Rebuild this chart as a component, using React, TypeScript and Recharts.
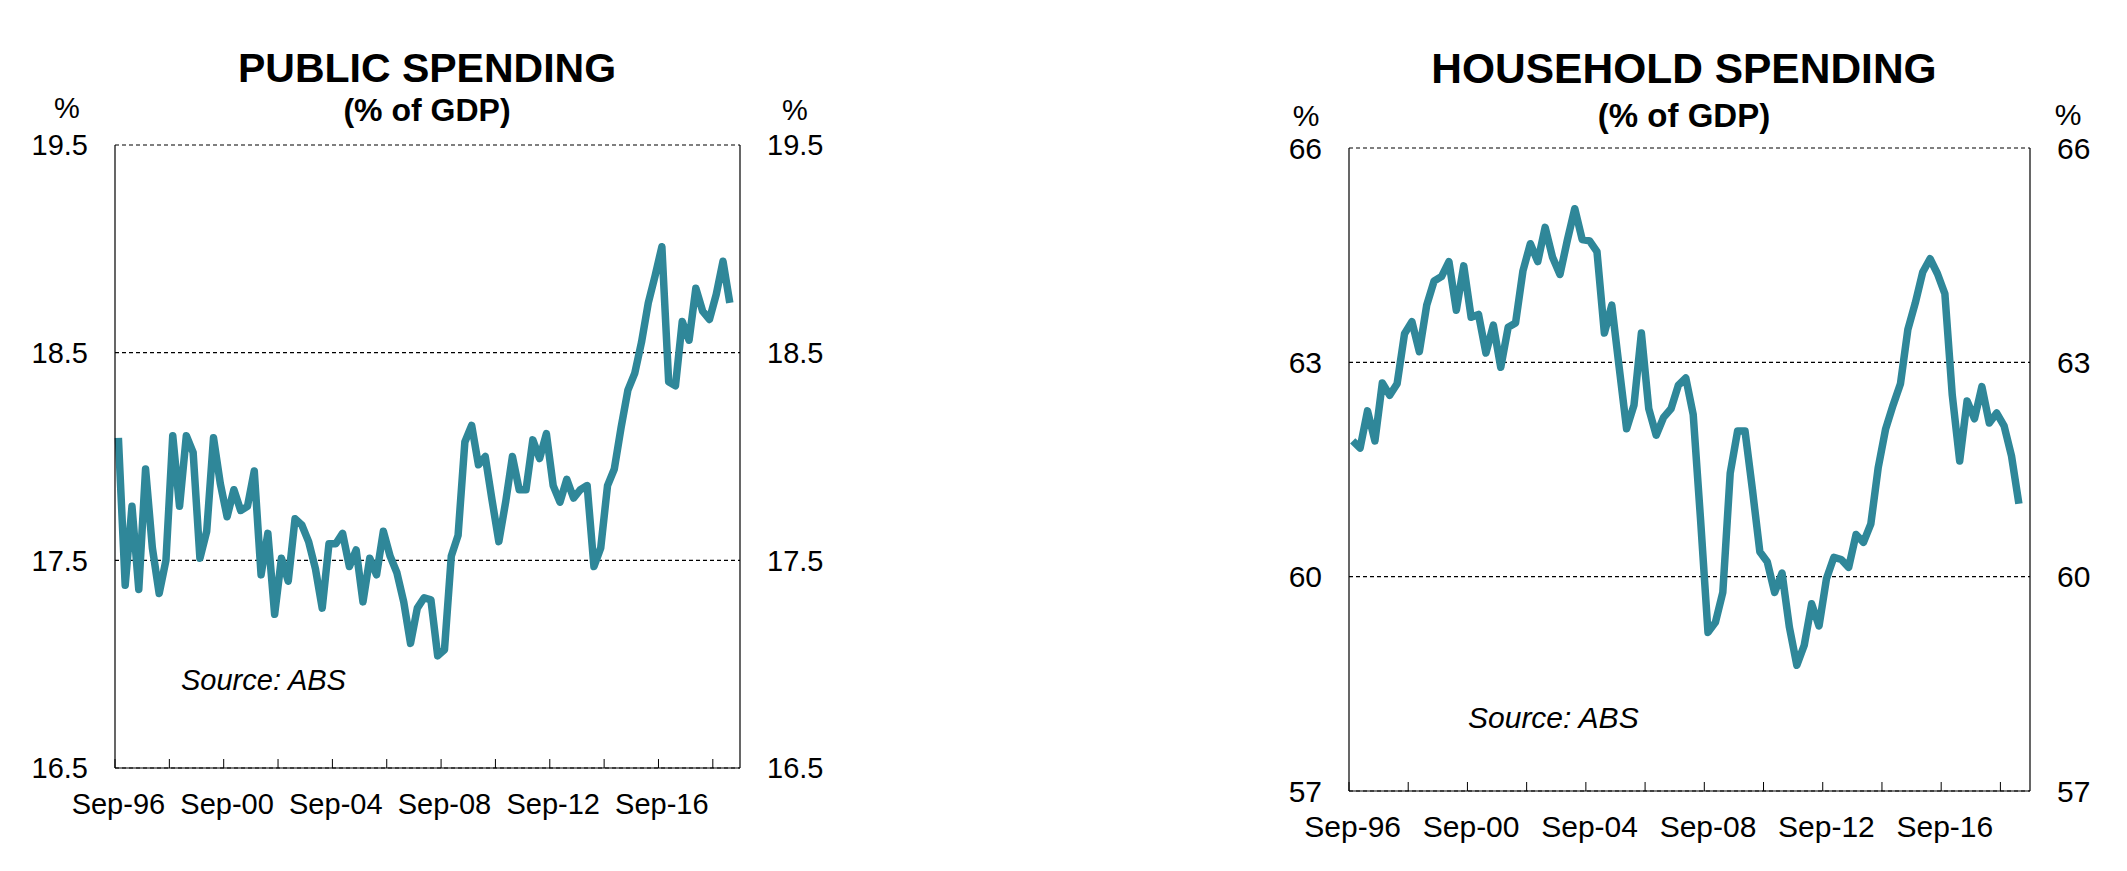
import React from "react";
import { LineChart, Line, XAxis, YAxis, CartesianGrid } from "recharts";

// quarterly, Sep-96 .. Mar-19
const publicSpending = [
  18.09, 17.38, 17.76, 17.36, 17.94, 17.56, 17.34, 17.5, 18.1, 17.76,
  18.1, 18.02, 17.51, 17.64, 18.09, 17.87, 17.71, 17.84, 17.74, 17.76,
  17.93, 17.43, 17.63, 17.24, 17.51, 17.4, 17.7, 17.67, 17.59, 17.46,
  17.27, 17.58, 17.58, 17.63, 17.47, 17.55, 17.3, 17.51, 17.43, 17.64,
  17.52, 17.44, 17.3, 17.1, 17.27, 17.32, 17.31, 17.04, 17.07, 17.52,
  17.62, 18.07, 18.15, 17.96, 18.0, 17.79, 17.59, 17.78, 18.0, 17.84,
  17.84, 18.08, 17.99, 18.11, 17.86, 17.78, 17.89, 17.8, 17.84, 17.86,
  17.47, 17.56, 17.86, 17.94, 18.14, 18.32, 18.4, 18.55, 18.74, 18.87,
  19.01, 18.36, 18.34, 18.65, 18.56, 18.81, 18.7, 18.66, 18.78, 18.94,
  18.74,
];

const householdSpending = [
  61.9, 61.8, 62.32, 61.9, 62.71, 62.54, 62.7, 63.4, 63.57, 63.15,
  63.8, 64.14, 64.2, 64.41, 63.73, 64.35, 63.63, 63.67, 63.13, 63.52,
  62.93, 63.49, 63.55, 64.28, 64.66, 64.41, 64.89, 64.47, 64.23, 64.71,
  65.15, 64.72, 64.7, 64.55, 63.41, 63.8, 62.93, 62.07, 62.4, 63.41,
  62.35, 61.98, 62.23, 62.35, 62.68, 62.78, 62.27, 60.79, 59.22, 59.36,
  59.78, 61.45, 62.04, 62.04, 61.22, 60.35, 60.21, 59.78, 60.05, 59.29,
  58.76, 59.04, 59.62, 59.31, 59.97, 60.27, 60.24, 60.13, 60.59, 60.48,
  60.74, 61.53, 62.07, 62.4, 62.7, 63.46, 63.83, 64.26, 64.45, 64.24,
  63.96, 62.54, 61.62, 62.46, 62.21, 62.66, 62.15, 62.29, 62.11, 61.69,
  61.02,
];

const xTicks = [0, 8, 16, 24, 32, 40, 48, 56, 64, 72, 80, 88];
const xTickLabels = ["Sep-96", "Sep-00", "Sep-04", "Sep-08", "Sep-12", "Sep-16"];
const publicTicks = [16.5, 17.5, 18.5, 19.5];
const householdTicks = [57, 60, 63, 66];

const FONT = "'Liberation Sans', Arial, Helvetica, sans-serif";
const LINE_COLOR = "#2f8799";

const toRows = (values: number[]) => values.map((v, i) => ({ x: i + 0.5, v }));

const XTick = (props: any) => {
  const { x, y, payload, shift, fontSize } = props;
  const v = payload.value;
  const label = v % 16 === 0 ? xTickLabels[v / 16] : "";
  return (
    <g>
      <line x1={x} x2={x} y1={y} y2={y - 9} stroke="#000" strokeWidth={1} />
      {label && (
        <text
          x={x + shift}
          y={y + 46}
          textAnchor="middle"
          fontSize={fontSize}
          fontFamily={FONT}
          fill="#000"
        >
          {label}
        </text>
      )}
    </g>
  );
};

interface PanelProps {
  values: number[];
  ticks: number[];
  digits: number;
  left: number;
  width: number;
  top: number;
  leftAxis: number;
  rightAxis: number;
  xAxisHeight: number;
  fontSize: number;
  shift: number;
}

const Panel = ({ values, ticks, digits, left, width, top, leftAxis, rightAxis, xAxisHeight, fontSize, shift }: PanelProps) => {
  const rows = toRows(values);
  const domain = [ticks[0], ticks[ticks.length - 1]];
  const tickStyle = { fontSize, fontFamily: FONT, fill: "#000" };
  return (
    <div style={{ position: "absolute", left, top: 0 }}>
      <LineChart width={width} height={871} data={rows} margin={{ top, right: 0, bottom: 0, left: 0 }}>
        <CartesianGrid
          yAxisId="left"
          vertical={false}
          horizontalValues={ticks}
          stroke="#000"
          strokeDasharray="4 3"
          strokeWidth={1.2}
        />
        <XAxis
          type="number"
          dataKey="x"
          domain={[0, 92]}
          ticks={xTicks}
          interval={0}
          height={xAxisHeight}
          tickSize={0}
          tickMargin={0}
          tickLine={false}
          axisLine={{ stroke: "#000", strokeWidth: 1.2 }}
          tick={<XTick shift={shift} fontSize={fontSize} />}
        />
        <YAxis
          yAxisId="left"
          type="number"
          domain={domain}
          ticks={ticks}
          width={leftAxis}
          tickSize={0}
          tickMargin={27}
          tickLine={false}
          axisLine={{ stroke: "#000", strokeWidth: 1.2 }}
          tick={tickStyle}
          tickFormatter={(v: number) => v.toFixed(digits)}
        />
        <YAxis
          yAxisId="right"
          orientation="right"
          type="number"
          domain={domain}
          ticks={ticks}
          width={rightAxis}
          tickSize={0}
          tickMargin={27}
          tickLine={false}
          axisLine={{ stroke: "#000", strokeWidth: 1.2 }}
          tick={tickStyle}
          tickFormatter={(v: number) => v.toFixed(digits)}
        />
        <Line
          yAxisId="right"
          type="linear"
          dataKey="v"
          stroke="none"
          dot={false}
          activeDot={false}
          isAnimationActive={false}
        />
        <Line
          yAxisId="left"
          type="linear"
          dataKey="v"
          stroke={LINE_COLOR}
          strokeWidth={7.5}
          strokeLinejoin="round"
          dot={false}
          activeDot={false}
          isAnimationActive={false}
        />
      </LineChart>
    </div>
  );
};

const App = () => {
  return (
    <div style={{ position: "absolute", left: 0, top: 0, width: 2127, height: 871, background: "#fff", overflow: "hidden" }}>
      <Panel
        values={publicSpending}
        ticks={publicTicks}
        digits={1}
        left={0}
        width={870}
        top={145}
        leftAxis={115}
        rightAxis={130}
        xAxisHeight={103}
        fontSize={29}
        shift={3.4}
      />
      <Panel
        values={householdSpending}
        ticks={householdTicks}
        digits={0}
        left={1200}
        width={927}
        top={148}
        leftAxis={149}
        rightAxis={97}
        xAxisHeight={80}
        fontSize={30}
        shift={3.7}
      />
      <svg
        width={2127}
        height={871}
        style={{ position: "absolute", left: 0, top: 0, pointerEvents: "none" }}
        fontFamily={FONT}
      >
        <text x={427} y={82} textAnchor="middle" fontSize={41} fontWeight="bold">PUBLIC SPENDING</text>
        <text x={427} y={121} textAnchor="middle" fontSize={32} fontWeight="bold">(% of GDP)</text>
        <text x={67} y={118} textAnchor="middle" fontSize={29}>%</text>
        <text x={795} y={120} textAnchor="middle" fontSize={29}>%</text>
        <text x={181} y={690} fontSize={29} fontStyle="italic">Source: ABS</text>

        <text x={1684} y={83} textAnchor="middle" fontSize={42.5} fontWeight="bold">HOUSEHOLD SPENDING</text>
        <text x={1684} y={127} textAnchor="middle" fontSize={33} fontWeight="bold">(% of GDP)</text>
        <text x={1306} y={126} textAnchor="middle" fontSize={30}>%</text>
        <text x={2068} y={125} textAnchor="middle" fontSize={30}>%</text>
        <text x={1468} y={728} fontSize={30} fontStyle="italic">Source: ABS</text>
      </svg>
    </div>
  );
};

export default App;
